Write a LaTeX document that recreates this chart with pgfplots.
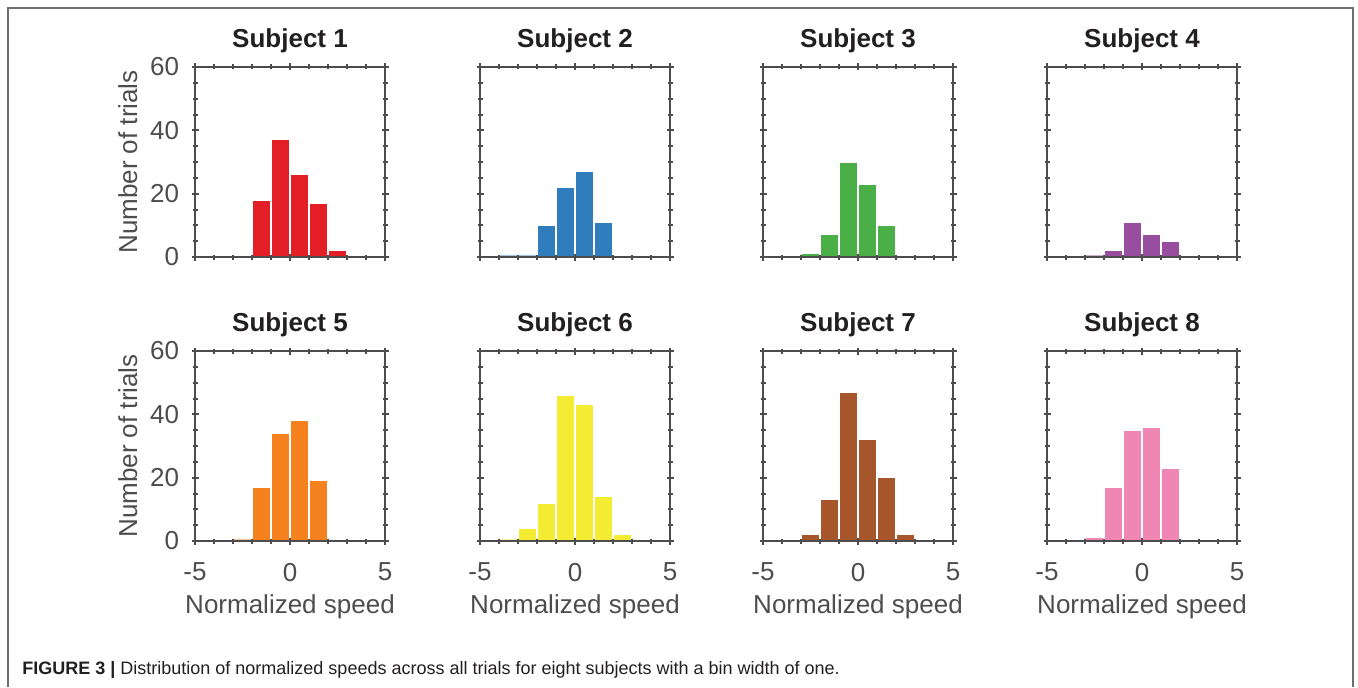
\documentclass[border=0pt]{standalone}
\usepackage{fontspec}
\setmainfont{Liberation Sans}
\usepackage{graphicx}
\usepackage{pgfplots}
\pgfplotsset{compat=1.18}
\definecolor{axgray}{HTML}{4D4D4F}
\definecolor{labgray}{HTML}{4D4D4F}
\definecolor{titlecol}{HTML}{231F20}
\definecolor{framecol}{HTML}{6D6E70}
\definecolor{cA}{HTML}{E41E26}
\definecolor{cB}{HTML}{2F7DBD}
\definecolor{cC}{HTML}{4BAF48}
\definecolor{cD}{HTML}{974E9E}
\definecolor{cE}{HTML}{F5821F}
\definecolor{cF}{HTML}{F3EC33}
\definecolor{cG}{HTML}{A6562A}
\definecolor{cH}{HTML}{EF86B4}
\pgfplotsset{
  hist/.style={
    width=95pt, height=95pt, scale only axis,
    anchor=south west,
    xmin=-5, xmax=5, ymin=0, ymax=60,
    xtick={-5,0,5}, ytick={0,20,40,60},
    minor x tick num=4, minor y tick num=3,
    tick align=center,
    major tick length=3.5pt, minor tick length=2.5pt,
    axis line style={draw=axgray, line width=1.2pt},
    tick style={draw=axgray, line width=1pt},
    xticklabels={}, yticklabels={},
    tick label style={font=\fontsize{13}{15}\selectfont, text=labgray, inner sep=0pt},
    yticklabel style={xshift=-6pt},
    xticklabel style={yshift=-9pt},
    label style={font=\fontsize{13}{15}\selectfont, text=labgray, inner sep=0pt},
    xlabel style={at={(axis description cs:0.5,-0.384)}, anchor=base},
    ylabel style={at={(axis description cs:-0.304,0.5)}, anchor=base},
    title style={font=\fontsize{13}{15}\selectfont\bfseries, text=titlecol, inner sep=0pt,
      at={(axis description cs:0.5,1.037)}, anchor=base},
    axis on top,
  },
  bars/.style={ybar interval, fill=#1, draw=white, line width=0.6pt},
  zero/.style={ybar interval, fill=#1!45, draw=none},
  firstcol/.style={yticklabels={0,20,40,60}, ylabel={Number of trials}},
  lastrow/.style={xticklabels={-5,0,5}, xlabel={Normalized speed}},
}
\begin{document}
\begin{tikzpicture}
\useasboundingbox (0,0) rectangle (679pt,-343.5pt);
\draw[framecol, line width=0.6pt] (4pt,-343.5pt) -- (4pt,-4pt) -- (676.5pt,-4pt) -- (676.5pt,-343.5pt);

% Row 1
\begin{axis}[hist, firstcol, at={(97.5pt,-128.5pt)}, title={Subject 1}]
\addplot[bars=cA] coordinates {(-2,18) (-1,37) (0,26) (1,17) (2,2) (3,0)};
\end{axis}
\begin{axis}[hist, at={(240pt,-128.5pt)}, title={Subject 2}]
\addplot[zero=cB] coordinates {(-4,0.7) (-3,0.7) (-2,0)};
\addplot[bars=cB] coordinates {(-2,10) (-1,22) (0,27) (1,11) (2,0)};
\end{axis}
\begin{axis}[hist, at={(381.5pt,-128.5pt)}, title={Subject 3}]
\addplot[bars=cC] coordinates {(-3,1) (-2,7) (-1,30) (0,23) (1,10) (2,0)};
\end{axis}
\begin{axis}[hist, at={(523.5pt,-128.5pt)}, title={Subject 4}]
\addplot[zero=cD] coordinates {(-3,0.7) (-2,0)};
\addplot[bars=cD] coordinates {(-2,2) (-1,11) (0,7) (1,5) (2,0)};
\end{axis}

% Row 2
\begin{axis}[hist, firstcol, lastrow, at={(97.5pt,-270.5pt)}, title={Subject 5}]
\addplot[zero=cE] coordinates {(-3,0.7) (-2,0)};
\addplot[bars=cE] coordinates {(-2,17) (-1,34) (0,38) (1,19) (2,0)};
\end{axis}
\begin{axis}[hist, lastrow, at={(240pt,-270.5pt)}, title={Subject 6}]
\addplot[zero=cF] coordinates {(-4,0.7) (-3,0)};
\addplot[bars=cF] coordinates {(-3,4) (-2,12) (-1,46) (0,43) (1,14) (2,2) (3,0)};
\end{axis}
\begin{axis}[hist, lastrow, at={(381.5pt,-270.5pt)}, title={Subject 7}]
\addplot[bars=cG] coordinates {(-3,2) (-2,13) (-1,47) (0,32) (1,20) (2,2) (3,0)};
\end{axis}
\begin{axis}[hist, lastrow, at={(523.5pt,-270.5pt)}, title={Subject 8}]
\addplot[bars=cH] coordinates {(-3,1) (-2,17) (-1,35) (0,36) (1,23) (2,0)};
\end{axis}

\node[anchor=base west, inner sep=0pt, text=titlecol] at (11pt,-337pt)
  {\fontsize{9}{11}\selectfont\textbf{FIGURE 3 |} Distribution of normalized speeds across all trials for eight subjects with a bin width of one.};
\end{tikzpicture}
\end{document}
